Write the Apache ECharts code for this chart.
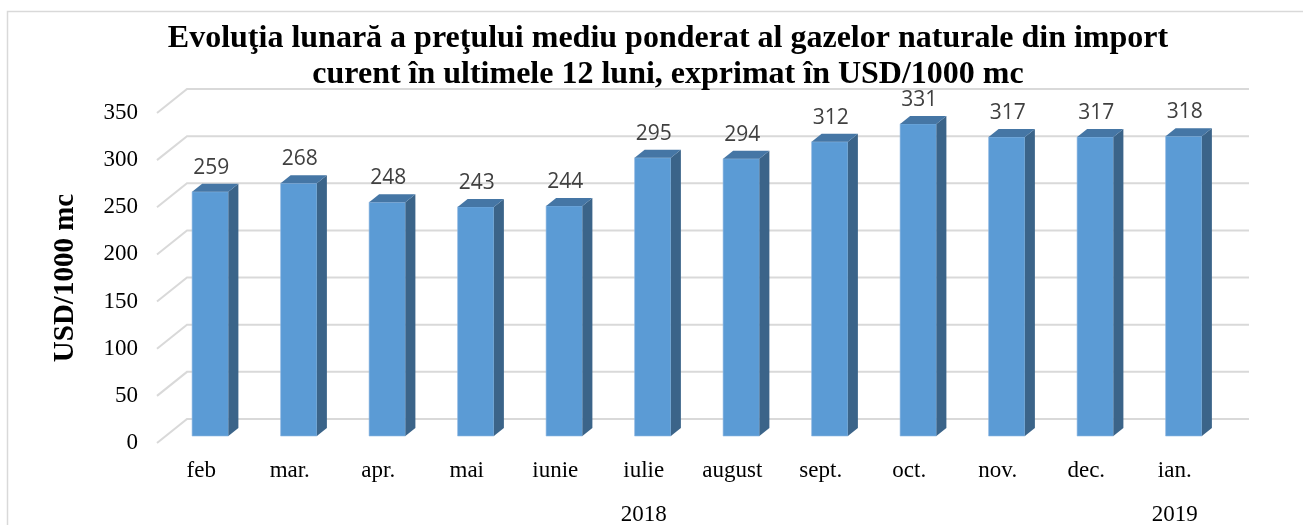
<!DOCTYPE html>
<html>
<head>
<meta charset="utf-8">
<script src="https://cdn.jsdelivr.net/npm/echarts@6/dist/echarts.min.js"></script>
<style>html,body{margin:0;padding:0;background:#fff}#chart{width:1303px;height:525px}</style>
</head>
<body>
<div id="chart"></div>
<script>
const months = ['feb', 'mar.', 'apr.', 'mai', 'iunie', 'iulie', 'august', 'sept.', 'oct.', 'nov.', 'dec.', 'ian.'];
const prices = [259, 268, 248, 243, 244, 295, 294, 312, 331, 317, 317, 318];
const yTicks = [0, 50, 100, 150, 200, 250, 300, 350];
const years = ['2018', '2019'];
const yearFrom = [0, 11];
const yearTo = [10, 11];

const chart = echarts.init(document.getElementById('chart'));
const serif = '"Liberation Serif", "Times New Roman", serif';

// gridlines drawn on the back wall + left side wall (pseudo 3d like excel)
function renderGridline(params, api) {
  const v = api.value(1);
  const band = api.size([1, 0])[0];
  const p0 = api.coord([0, v]);
  const p1 = api.coord([months.length - 1, v]);
  const l = p0[0] - band / 2, r = p1[0] + band / 2, y = p0[1];
  return {
    type: 'polyline',
    silent: true,
    shape: { points: [[l - 9, y + 7], [l + 21, y - 17], [r + 21, y - 17]] },
    style: { stroke: '#d9d9d9', lineWidth: 2, fill: null }
  };
}

function renderBar(params, api) {
  const i = api.value(0), v = api.value(1);
  const band = api.size([1, 0])[0];
  const top = api.coord([i, v]), base = api.coord([i, 0]);
  const w = band * 0.41, dx = 10, dy = -8;
  const x0 = top[0] - w / 2, x1 = top[0] + w / 2, yt = top[1], yb = base[1];
  return {
    type: 'group',
    children: [
      { type: 'rect', shape: { x: x0, y: yt, width: w, height: yb - yt }, style: { fill: '#5b9bd5', stroke: '#8fb8e2', lineWidth: 0.6 } },
      { type: 'polygon', shape: { points: [[x1, yt], [x1 + dx, yt + dy], [x1 + dx, yb + dy], [x1, yb]] }, style: { fill: '#3b6489' } },
      { type: 'polygon', shape: { points: [[x0, yt], [x0 + dx, yt + dy], [x1 + dx, yt + dy], [x1, yt]] }, style: { fill: '#4576a5' } },
      {
        type: 'text',
        style: {
          text: String(v), x: top[0] + 1, y: yt - 24, align: 'center', verticalAlign: 'middle',
          fontSize: 21, fontFamily: '"Open Sans", "Noto Sans", sans-serif', fill: '#404040'
        }
      }
    ]
  };
}

function renderYear(params, api) {
  const a = api.coord([api.value(0), 0]);
  const b = api.coord([api.value(1), 0]);
  return {
    type: 'text',
    style: {
      text: years[params.dataIndex], x: (a[0] + b[0]) / 2, y: a[1] + 72,
      align: 'center', verticalAlign: 'middle', fontSize: 23, fontFamily: serif, fill: '#000'
    }
  };
}

const option = {
  animation: false,
  backgroundColor: '#fff',
  title: {
    text: 'Evoluţia lunară a preţului mediu ponderat al gazelor naturale din import\ncurent în ultimele 12 luni, exprimat în USD/1000 mc',
    left: 663,
    top: 16,
    textAlign: 'center',
    textStyle: { fontFamily: serif, fontWeight: 'bold', fontSize: 32, lineHeight: 36, color: '#000' }
  },
  graphic: [
    { type: 'rect', silent: true, shape: { x: 7.5, y: 11.5, width: 1310, height: 530 }, style: { fill: null, stroke: '#d9d9d9', lineWidth: 1.5 } }
  ],
  grid: [
    { left: 166, right: 75, top: 106, bottom: 89 },
    { left: 157, right: 84, top: 113, bottom: 82 }
  ],
  xAxis: [
    { type: 'category', gridIndex: 0, data: months, show: false },
    {
      type: 'category', gridIndex: 1, data: months,
      axisLine: { show: false }, axisTick: { show: false },
      axisLabel: { margin: 16, fontSize: 23, fontFamily: serif, color: '#000', interval: 0 }
    }
  ],
  yAxis: [
    { type: 'value', gridIndex: 0, min: 0, max: 350, interval: 50, show: false },
    {
      type: 'value', gridIndex: 1, min: 0, max: 350, interval: 50,
      name: 'USD/1000 mc', nameLocation: 'middle', nameRotate: 90, nameGap: 77,
      nameTextStyle: { fontFamily: serif, fontWeight: 'bold', fontSize: 29, color: '#000' },
      axisLine: { show: false }, axisTick: { show: false }, splitLine: { show: false },
      axisLabel: { margin: 19, fontSize: 23, fontFamily: serif, color: '#000' }
    }
  ],
  series: [
    {
      type: 'custom', xAxisIndex: 0, yAxisIndex: 0, z: 1,
      renderItem: renderGridline,
      data: yTicks.map(v => [0, v])
    },
    {
      type: 'custom', xAxisIndex: 0, yAxisIndex: 0, z: 2,
      renderItem: renderBar,
      encode: { x: 0, y: 1 },
      data: prices.map((v, i) => [i, v])
    },
    {
      type: 'custom', xAxisIndex: 1, yAxisIndex: 1, z: 2,
      renderItem: renderYear,
      data: years.map((y, k) => [yearFrom[k], yearTo[k]])
    }
  ]
};

chart.setOption(option);
</script>
</body>
</html>
